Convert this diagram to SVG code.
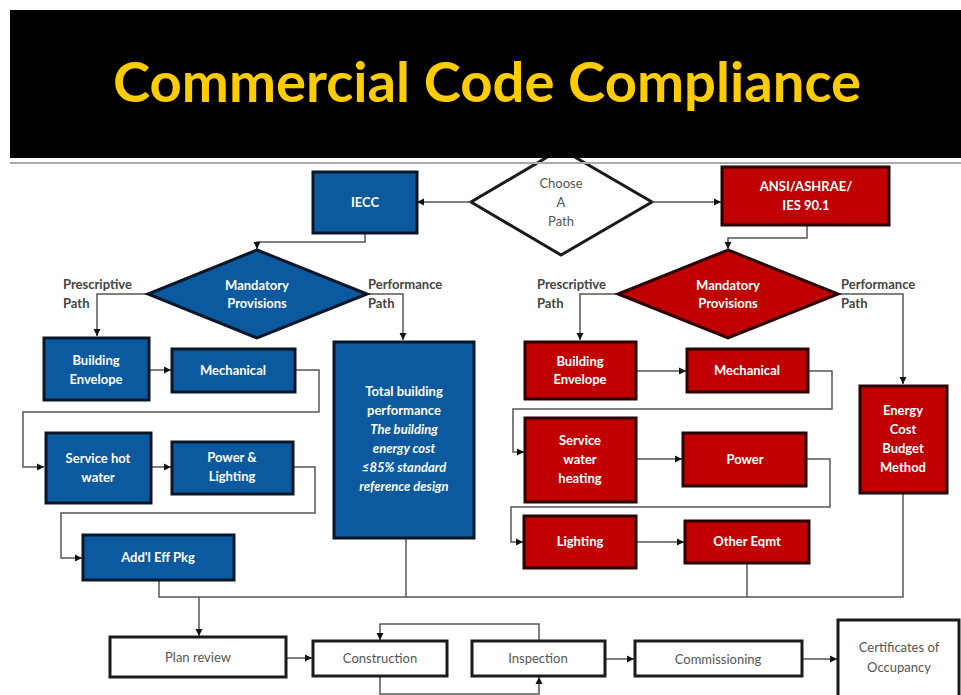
<svg xmlns="http://www.w3.org/2000/svg" width="961" height="695" viewBox="0 0 961 695">
<style>
.blue{fill:#0B5AA0;stroke:#0a1628;stroke-width:3}
.red{fill:#C00000;stroke:#2a0000;stroke-width:3}
.wbox{fill:#fff;stroke:#1a1a1a;stroke-width:3}
.wt{font-family:Lato,"Open Sans",sans-serif;font-weight:bold;font-size:13px;fill:#fff;text-anchor:middle}
.it{font-style:italic}
.gt{font-family:Lato,"Open Sans",sans-serif;font-size:13px;fill:#555;text-anchor:middle}
.lbl{font-family:Lato,"Open Sans",sans-serif;font-weight:bold;font-size:13px;fill:#444}
.c{fill:none;stroke:#555;stroke-width:1.5}
.ca{fill:none;stroke:#555;stroke-width:1.5;marker-end:url(#ah)}
</style>
<defs>
<marker id="ah" markerUnits="userSpaceOnUse" markerWidth="8" markerHeight="8" refX="7" refY="4" orient="auto">
<path d="M0,0.5 L7,4 L0,7.5 Z" fill="#111"/>
</marker>
</defs>
<rect x="0" y="0" width="961" height="695" fill="#fff"/>

<g id="choose">
<polygon points="561,149 652,202 561,255 471,202" fill="#fff" stroke="#1a1a1a" stroke-width="3"/>
<text class="gt" x="561" y="188">Choose</text>
<text class="gt" x="561" y="207">A</text>
<text class="gt" x="561" y="226">Path</text>
</g>

<g id="title">
<rect x="10" y="10" width="951" height="148" fill="#000"/>
<line x1="10" y1="163" x2="961" y2="163" stroke="#aaa" stroke-width="2"/>
<text x="487" y="102" font-family="Lato,'Open Sans',sans-serif" font-weight="bold" font-size="56" fill="#FFCC00" text-anchor="middle" textLength="748" lengthAdjust="spacingAndGlyphs">Commercial Code Compliance</text>
</g>

<g id="connectors">
<polyline class="ca" points="471,202 417,202"/>
<polyline class="ca" points="652,202 721,202"/>
<polyline class="ca" points="365,233 365,242 257,242 257,249"/>
<polyline class="ca" points="807,225 807,238 728,238 728,249"/>
<polyline class="ca" points="148,294 97,294 97,336"/>
<polyline class="ca" points="367,294 403,294 403,340"/>
<polyline class="ca" points="618,294 580,294 580,340"/>
<polyline class="ca" points="838,294 903,294 903,384"/>
<polyline class="ca" points="149,370 171,370"/>
<polyline class="ca" points="295,370 319,370 319,412 23,412 23,467 44,467"/>
<polyline class="ca" points="151,467 171,467"/>
<polyline class="ca" points="293,467 315,467 315,513 61,513 61,558 82,558"/>
<polyline class="ca" points="636,371 686,371"/>
<polyline class="ca" points="808,371 832,371 832,409 513,409 513,452 524,452"/>
<polyline class="ca" points="636,459 682,459"/>
<polyline class="ca" points="806,459 830,459 830,507 511,507 511,542 523,542"/>
<polyline class="ca" points="636,542 684,542"/>
<polyline class="c" points="159,580 159,597 903,597 903,493"/>
<polyline class="c" points="406,538 406,597"/>
<polyline class="c" points="747,563 747,597"/>
<polyline class="ca" points="199,597 199,636"/>
<polyline class="ca" points="286,658 312,658"/>
<polyline class="ca" points="539,641 539,624 380,624 380,640"/>
<polyline class="ca" points="380,676 380,694 539,694 539,677"/>
<polyline class="ca" points="605,659 634,659"/>
<polyline class="ca" points="802,659 837,659"/>
</g>

<g id="iecc">
<rect class="blue" x="313" y="172" width="104" height="61"/>
<text class="wt" x="365" y="207">IECC</text>
</g>
<g id="ansi">
<rect class="red" x="722" y="167" width="167" height="58"/>
<text class="wt" x="806" y="191">ANSI/ASHRAE/</text>
<text class="wt" x="806" y="210">IES 90.1</text>
</g>

<g id="mand-blue">
<polygon points="257,250 367,294 257,338 148,294" fill="#0B5AA0" stroke="#0a1628" stroke-width="3"/>
<text class="wt" x="257" y="290">Mandatory</text>
<text class="wt" x="257" y="308">Provisions</text>
</g>
<g id="mand-red">
<polygon points="728,250 838,294 728,338 618,294" fill="#C00000" stroke="#2a0000" stroke-width="3"/>
<text class="wt" x="728" y="290">Mandatory</text>
<text class="wt" x="728" y="308">Provisions</text>
</g>

<g id="labels">
<text class="lbl" x="63" y="289">Prescriptive</text>
<text class="lbl" x="63" y="308">Path</text>
<text class="lbl" x="368" y="289">Performance</text>
<text class="lbl" x="368" y="308">Path</text>
<text class="lbl" x="537" y="289">Prescriptive</text>
<text class="lbl" x="537" y="308">Path</text>
<text class="lbl" x="841" y="289">Performance</text>
<text class="lbl" x="841" y="308">Path</text>
</g>

<g id="b-envelope">
<rect class="blue" x="44" y="338" width="105" height="62"/>
<text class="wt" x="96" y="365">Building</text>
<text class="wt" x="96" y="384">Envelope</text>
</g>
<g id="b-mech">
<rect class="blue" x="172" y="349" width="123" height="43"/>
<text class="wt" x="233" y="375">Mechanical</text>
</g>
<g id="b-shw">
<rect class="blue" x="46" y="433" width="105" height="70"/>
<text class="wt" x="98" y="463">Service hot</text>
<text class="wt" x="98" y="482">water</text>
</g>
<g id="b-pl">
<rect class="blue" x="172" y="442" width="121" height="52"/>
<text class="wt" x="232" y="462">Power &amp;</text>
<text class="wt" x="232" y="481">Lighting</text>
</g>
<g id="b-addl">
<rect class="blue" x="83" y="535" width="151" height="45"/>
<text class="wt" x="158" y="562">Add'l Eff Pkg</text>
</g>
<g id="b-total">
<rect class="blue" x="334" y="342" width="140" height="196"/>
<text class="wt" x="404" y="396">Total building</text>
<text class="wt" x="404" y="415">performance</text>
<text class="wt it" x="404" y="434">The building</text>
<text class="wt it" x="404" y="453">energy cost</text>
<text class="wt it" x="404" y="472">≤85% standard</text>
<text class="wt it" x="404" y="491">reference design</text>
</g>

<g id="r-envelope">
<rect class="red" x="525" y="342" width="111" height="57"/>
<text class="wt" x="580" y="366">Building</text>
<text class="wt" x="580" y="384">Envelope</text>
</g>
<g id="r-mech">
<rect class="red" x="687" y="349" width="121" height="43"/>
<text class="wt" x="747" y="375">Mechanical</text>
</g>
<g id="r-swh">
<rect class="red" x="525" y="418" width="111" height="84"/>
<text class="wt" x="580" y="445">Service</text>
<text class="wt" x="580" y="464">water</text>
<text class="wt" x="580" y="483">heating</text>
</g>
<g id="r-power">
<rect class="red" x="683" y="433" width="123" height="53"/>
<text class="wt" x="745" y="464">Power</text>
</g>
<g id="r-lighting">
<rect class="red" x="524" y="516" width="112" height="52"/>
<text class="wt" x="580" y="546">Lighting</text>
</g>
<g id="r-other">
<rect class="red" x="685" y="521" width="124" height="42"/>
<text class="wt" x="747" y="546">Other Eqmt</text>
</g>
<g id="r-ecb">
<rect class="red" x="860" y="386" width="87" height="107"/>
<text class="wt" x="903" y="415">Energy</text>
<text class="wt" x="903" y="434">Cost</text>
<text class="wt" x="903" y="453">Budget</text>
<text class="wt" x="903" y="472">Method</text>
</g>

<g id="plan">
<rect class="wbox" x="110" y="637" width="176" height="40"/>
<text class="gt" x="198" y="662">Plan review</text>
</g>
<g id="construction">
<rect class="wbox" x="313" y="641" width="134" height="35"/>
<text class="gt" x="380" y="663">Construction</text>
</g>
<g id="inspection">
<rect class="wbox" x="472" y="641" width="133" height="35"/>
<text class="gt" x="538" y="663">Inspection</text>
</g>
<g id="commissioning">
<rect class="wbox" x="635" y="641" width="167" height="35"/>
<text class="gt" x="718" y="664">Commissioning</text>
</g>
<g id="certificates">
<rect class="wbox" x="838" y="620" width="121" height="82"/>
<text class="gt" x="899" y="652">Certificates of</text>
<text class="gt" x="899" y="672">Occupancy</text>
</g>
</svg>
